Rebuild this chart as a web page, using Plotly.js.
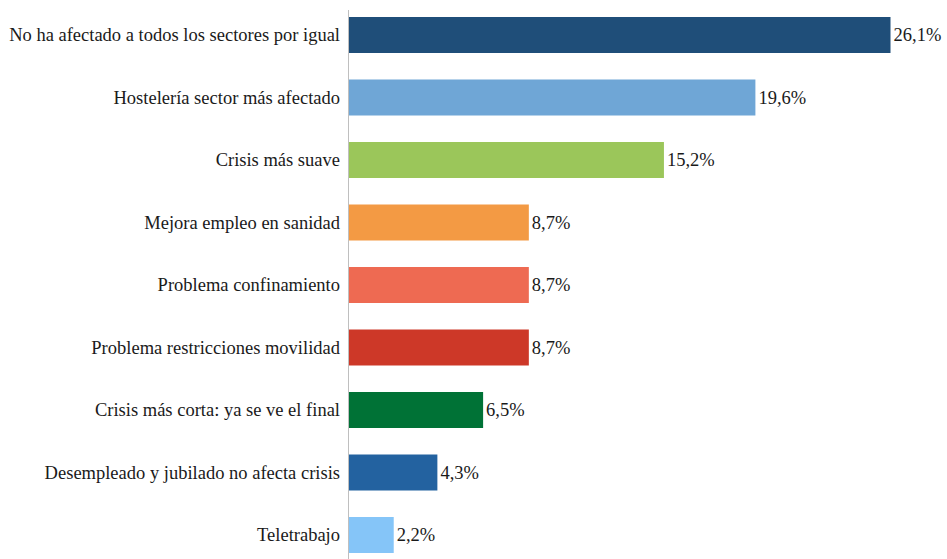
<!DOCTYPE html>
<html>
<head>
<meta charset="utf-8">
<script src="https://cdn.plot.ly/plotly-3.0.1.min.js"></script>
<style>html,body{margin:0;padding:0;background:#fff;}#chart{width:947px;height:559px;}</style>
</head>
<body>
<div id="chart"></div>
<script>
const categories = [
  "No ha afectado a todos los sectores por igual",
  "Hostelería sector más afectado",
  "Crisis más suave",
  "Mejora empleo en sanidad",
  "Problema confinamiento",
  "Problema restricciones movilidad",
  "Crisis más corta: ya se ve el final",
  "Desempleado y jubilado no afecta crisis",
  "Teletrabajo"
];
const values = [26.1, 19.6, 15.2, 8.7, 8.7, 8.7, 6.5, 4.3, 2.2];
const valueLabels = ["26,1%", "19,6%", "15,2%", "8,7%", "8,7%", "8,7%", "6,5%", "4,3%", "2,2%"];
const barColors = ["#1F4E79", "#6FA6D6", "#9BC65A", "#F39A44", "#EE6A52", "#CD3828", "#007236", "#2362A0", "#85C5F8"];

const font = "Liberation Serif, serif";
const trace = {
  type: "bar",
  orientation: "h",
  x: values,
  y: categories,
  text: valueLabels,
  textposition: "outside",
  cliponaxis: false,
  textfont: {family: font, size: 18.5, color: "#1a1a1a"},
  marker: {color: barColors},
  hoverinfo: "none"
};
const layout = {
  width: 947, height: 559,
  margin: {l: 348, r: 17, t: 0, b: 0},
  paper_bgcolor: "#fff", plot_bgcolor: "#fff",
  bargap: 0.424,
  showlegend: false,
  font: {family: font, size: 18.5, color: "#1a1a1a"},
  xaxis: {range: [0, 28], showgrid: false, zeroline: false, showline: false, showticklabels: false, ticks: ""},
  yaxis: {
    type: "category",
    categoryorder: "array", categoryarray: categories,
    range: [8.384, -0.56],
    showgrid: false, zeroline: false, showline: false, ticks: "",
    ticklabelstandoff: 7,
    tickfont: {family: font, size: 18.5, color: "#1a1a1a"}
  },
  shapes: [{type: "line", xref: "x", yref: "paper", x0: 0, x1: 0, y0: 0, y1: 0.982, line: {color: "#BFBFBF", width: 2}, layer: "above"}]
};
Plotly.newPlot("chart", [trace], layout, {staticPlot: true, displayModeBar: false});
</script>
</body>
</html>
